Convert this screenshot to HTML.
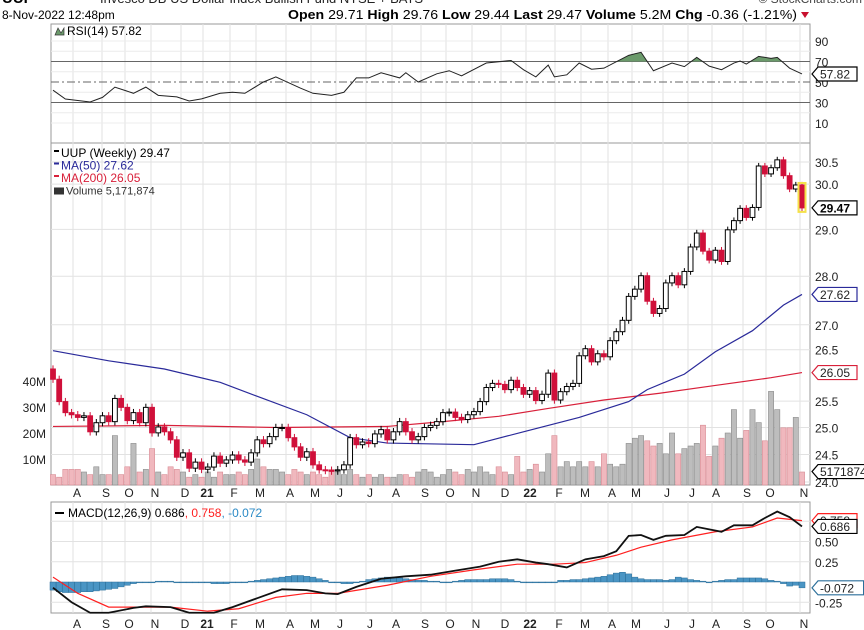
<!DOCTYPE html>
<html><head><meta charset="utf-8"><style>
body{margin:0;background:#fff;}
svg{display:block;font-family:"Liberation Sans",sans-serif;}
</style></head><body>
<svg id="c" width="864" height="630" viewBox="0 0 864 630">
<text x="100" y="3" font-size="13" fill="#222">Invesco DB US Dollar Index Bullish Fund  NYSE + BATS</text>
<text x="2" y="3" font-size="15" font-weight="bold" fill="#000">UUP</text>
<text x="862" y="3" font-size="12" fill="#444" text-anchor="end">© StockCharts.com</text>
<text x="2" y="19" font-size="12" fill="#000">8-Nov-2022 12:48pm</text>
<text x="288" y="19" font-size="13" fill="#000" textLength="509" lengthAdjust="spacingAndGlyphs"><tspan font-weight="bold">Open</tspan> 29.71 <tspan font-weight="bold">High</tspan> 29.76 <tspan font-weight="bold">Low</tspan> 29.44 <tspan font-weight="bold">Last</tspan> 29.47 <tspan font-weight="bold">Volume</tspan> 5.2M <tspan font-weight="bold">Chg</tspan> -0.36 (-1.21%)</text>
<path d="M801 12 L809 12 L805 18 Z" fill="#c8102e"/>
<g id="g"></g>
</svg>
<script>
const closes=[25.92,25.49,25.28,25.24,25.19,25.22,24.92,25.09,25.22,25.11,25.55,25.38,25.13,25.28,25.09,25.38,24.90,25.01,24.92,24.77,24.45,24.53,24.25,24.36,24.23,24.27,24.47,24.34,24.40,24.49,24.40,24.36,24.53,24.77,24.70,24.83,25.00,25.00,24.81,24.64,24.45,24.55,24.31,24.22,24.21,24.20,24.22,24.31,24.81,24.68,24.73,24.70,24.88,24.96,24.77,24.92,25.11,24.92,24.77,24.83,25.00,25.04,25.11,25.28,25.29,25.19,25.15,25.24,25.30,25.49,25.76,25.84,25.82,25.72,25.90,25.76,25.63,25.70,25.51,25.63,26.04,25.52,25.68,25.78,25.84,26.38,26.52,26.26,26.42,26.36,26.68,26.86,27.09,27.58,27.73,28.01,27.48,27.23,27.33,27.86,28.01,27.82,28.10,28.62,28.92,28.53,28.34,28.55,28.31,28.99,29.19,29.46,29.26,29.48,30.41,30.23,30.37,30.55,30.19,29.89,29.98,29.47];
const firstOpen=26.12;
const volumes=[4,3,6,6,6,5,4,7,4,4,19,4,7,16,5,6,14,5,4,7,6,5,3,4,3,5,3,5,4,4,5,4,6,10,7,6,6,5,4,6,5,4,5,4,3,6,5,4,6,4,3,4,3,4,3,3,4,4,3,5,6,5,3,4,6,5,4,6,5,7,5,4,7,5,4,11,5,6,8,5,12,19,7,9,7,9,7,9,7,12,8,7,8,16,18,19,17,15,16,12,20,12,14,15,16,23,11,15,18,20,29,18,21,29,24,17,36,29,22,22,26,5];
const ma50Idx=[0,9,18,27,33,41,48,54,68,76,85,93,96,102,107,113,118,121];
const ma50Val=[26.48,26.28,26.12,25.86,25.59,25.24,24.81,24.71,24.68,24.92,25.19,25.49,25.72,26.02,26.46,26.88,27.40,27.62];
const ma200Idx=[0,18,36,54,63,72,80,89,98,107,116,121];
const ma200Val=[25.02,25.04,25.00,25.02,25.11,25.21,25.36,25.52,25.65,25.80,25.95,26.05];
const rsiIdx=[0,2,6,8,10,13,15,17,20,22,24,27,29,31,34,36,40,42,45,47,49,51,53,56,57,59,62,64,66,70,74,76,78,80,81,83,85,87,89,93,95,97,100,102,104,106,108,110,111,112,114,116,117,119,121];
const rsiVal=[42,33.4,30.5,35,45,39,45,37,35.5,31.5,33.5,39,40,39,50,55,44,39,37,40,54,54,59,54,59,50,58,61,56,68.5,71,62,55,66.5,55,57,68.5,62.5,63.5,76,79,61,68.5,65,74,65.5,62,68.5,70.5,67.5,75,73,74,63.5,57.82];
const macdIdx=[0,3,6,9,13,15,19,22,26,29,33,37,41,44,46,49,53,57,61,65,69,72,75,78,80,83,86,89,91,93,95,97,99,102,104,108,110,113,115,117,119,121];
const macdVal=[-0.07,-0.25,-0.38,-0.38,-0.32,-0.30,-0.31,-0.38,-0.38,-0.31,-0.20,-0.09,-0.10,-0.14,-0.15,-0.06,0.04,0.07,0.09,0.14,0.19,0.25,0.28,0.24,0.22,0.18,0.28,0.32,0.38,0.57,0.58,0.52,0.57,0.58,0.68,0.62,0.70,0.70,0.79,0.87,0.80,0.686];
const sigIdx=[0,4,9,15,19,25,30,36,41,46,54,61,68,75,81,86,91,95,100,107,113,117,121];
const sigVal=[0.06,-0.14,-0.31,-0.31,-0.31,-0.36,-0.33,-0.19,-0.14,-0.14,-0.04,0.07,0.15,0.22,0.22,0.24,0.33,0.43,0.52,0.62,0.68,0.79,0.758];
const histVal=[-0.10,-0.12,-0.13,-0.13,-0.13,-0.12,-0.12,-0.11,-0.10,-0.09,-0.08,-0.06,-0.04,-0.02,-0.01,0.00,0.00,0.01,0.01,0.01,0.00,0.00,-0.01,-0.01,-0.01,-0.01,-0.02,-0.02,-0.02,-0.01,-0.01,0.00,0.01,0.02,0.03,0.04,0.05,0.06,0.07,0.08,0.08,0.07,0.06,0.04,0.02,0.00,-0.01,-0.02,-0.02,0.00,0.01,0.03,0.04,0.05,0.06,0.06,0.05,0.04,0.03,0.02,0.02,0.01,0.01,0.00,0.00,0.01,0.02,0.03,0.03,0.03,0.03,0.04,0.04,0.04,0.03,0.01,0.00,-0.01,-0.01,-0.01,0.00,0.00,0.02,0.02,0.03,0.03,0.04,0.05,0.06,0.07,0.09,0.11,0.12,0.10,0.06,0.04,0.03,0.03,0.03,0.02,0.03,0.06,0.05,0.03,0.02,0.01,-0.01,0.01,0.02,0.03,0.03,0.05,0.05,0.05,0.05,0.04,0.02,0.01,-0.02,-0.05,-0.04,-0.072];
const monthLabels=["A","S","O","N","D","21","F","M","A","M","J","J","A","S","O","N","D","22","F","M","A","M","J","J","A","S","O","N"];
const monthX=[77,106,129,155,185,207,234,260,290,315,340,370,396,425,450,476,505,530,559,585,612,636,667,692,716,747,770,804];
const priceTicks=[30.5,30.0,29.0,28.0,27.0,26.5,25.5,25.0,24.5,24.0];
const volTicks=[10,20,30,40];
const rsiTicks=[90,70,50,30,10];
const macdTicks=[0.5,0.25,-0.25];

const NS="http://www.w3.org/2000/svg";
const g=document.getElementById('g');
function mk(tag,attrs,parent){const e=document.createElementNS(NS,tag);for(const k in attrs)e.setAttribute(k,attrs[k]);(parent||g).appendChild(e);return e;}
const L=51,R=810,N=closes.length;
const X=i=>53+i*(802-53)/(N-1);
const PY=p=>482-1335*Math.log(p/24);
const VY=v=>485-v*2.6;
const RY=v=>82-(v-50)*1.025;
const MY=v=>582-v*81;
const panels=[[24,143],[143,485],[502,613]];
const panelNames=['rsi-panel','price-panel','macd-panel'];
panels.forEach((p,k)=>{
  const r=mk('rect',{x:L,y:p[0],width:R-L,height:p[1]-p[0],fill:'#fff',stroke:'#999','stroke-width':1});
  
  
});
monthX.forEach(x=>{panels.forEach(p=>{const l=mk('line',{x1:x-4,x2:x-4,y1:p[0],y2:p[1],stroke:'#e2e2e2'});

});});
[10,20,40,60,80,90].forEach(v=>{const l=mk('line',{x1:L,x2:R,y1:RY(v),y2:RY(v),stroke:'#ececec'});

});
[70,30].forEach(v=>{const l=mk('line',{x1:L,x2:R,y1:RY(v),y2:RY(v),stroke:'#666'});

});
{const l=mk('line',{x1:L,x2:R,y1:RY(50),y2:RY(50),stroke:'#666','stroke-dasharray':'8,3,2,3'});

}
rsiTicks.forEach(v=>{const t=mk('text',{x:815,y:RY(v)+5,'font-size':12,fill:'#222'});t.textContent=v;

});
const rp=rsiIdx.map((i,k)=>[X(i),RY(rsiVal[k])]);
{
  const clip=mk('clipPath',{id:'ob'});mk('rect',{x:L,y:24,width:R-L,height:RY(70)-24},clip);
  const a=mk('path',{d:'M'+rp[0][0]+' '+RY(70)+rp.map(p=>' L'+p[0]+' '+p[1]).join('')+' L'+rp[rp.length-1][0]+' '+RY(70)+'Z',fill:'#6b9a6b',stroke:'none','clip-path':'url(#ob)'});
  
  
}
{const l=mk('polyline',{points:rp.map(p=>p.join(',')).join(' '),fill:'none',stroke:'#222','stroke-width':1});

}
{const t=mk('text',{x:67,y:35,'font-size':12,fill:'#000'});t.textContent='RSI(14) 57.82';


 const ic=mk('path',{d:'M55 35 L58 28 L61 33 L64 28 L64 35Z',fill:'#6b9a6b',stroke:'#333','stroke-width':0.7});

}
priceTicks.forEach(p=>{const l=mk('line',{x1:L,x2:R,y1:PY(p),y2:PY(p),stroke:'#e2e2e2'});


 const t=mk('text',{x:815,y:PY(p)+5,'font-size':12,fill:'#222'});t.textContent=p.toFixed(1);

});
volTicks.forEach(v=>{const t=mk('text',{x:46,y:VY(v)+5,'font-size':12,fill:'#222','text-anchor':'end'});t.textContent=v+'M';

});
volumes.forEach((v,i)=>{const prev=i?closes[i-1]:firstOpen;const up=closes[i]>=prev;
 const b=mk('rect',{x:X(i)-2.6,y:VY(v),width:5.2,height:485-VY(v),fill:up?'#bdbdbd':'#f0b8be',stroke:up?'#8a8a8a':'#d88a93','stroke-width':0.6});
 
 });
function line(idx,val,fy,col,w){return mk('polyline',{points:idx.map((i,k)=>X(i)+','+fy(val[k])).join(' '),fill:'none',stroke:col,'stroke-width':w||1.2});}
const m200=line(ma200Idx,ma200Val,PY,'#d8203a');


const m50=line(ma50Idx,ma50Val,PY,'#2a2a9a');


closes.forEach((c,i)=>{const o=i?closes[i-1]:firstOpen;const hi=Math.max(o,c)+0.07,lo=Math.min(o,c)-0.07;
 const col=c<o?'#d0103a':'#000';const x=X(i);
 const w=mk('line',{x1:x,x2:x,y1:PY(hi),y2:PY(lo),stroke:col,'stroke-width':1});
 
 
 const yt=PY(Math.max(o,c)),yb=PY(Math.min(o,c));
 const b=mk('rect',{x:x-2.4,y:yt,width:4.8,height:Math.max(1,yb-yt),fill:c>o?'#fff':col,stroke:col,'stroke-width':1});
 
 });
const legendItems=[['UUP (Weekly) 29.47','#000'],['MA(50) 27.62','#2a2a9a'],['MA(200) 26.05','#d8203a'],['Volume 5,171,874','#333']];
legendItems.forEach((s,k)=>{
 const t=mk('text',{x:k==3?66:61,y:157+k*12.5,'font-size':k==3?11:12,fill:s[1]});t.textContent=s[0];
 
 
 const m=mk('rect',{x:54,y:150+k*12.5,width:k==3?10:5,height:k==3?7:2,fill:s[1]});
 
 });
function tag(y,txt,col,bold,name){const w=txt.length*6.6+6;
 const p=mk('path',{d:`M812 ${y} L818 ${y-7} L${818+w} ${y-7} L${818+w} ${y+7} L818 ${y+7}Z`,fill:'#fff',stroke:col,'stroke-width':1.2});
 
 
 const t=mk('text',{x:820,y:y+4.5,'font-size':12,fill:bold?'#000':'#222','font-weight':bold?'bold':'normal'});t.textContent=txt;
 
 }
tag(PY(29.47),'29.47','#000',true,'last-price-tag');
tag(PY(27.62),'27.62','#2a2a9a',false,'ma50-tag');
tag(PY(26.05),'26.05','#d8203a',false,'ma200-tag');
tag(VY(5.17),'5171874','#000',false,'volume-tag');
tag(RY(57.82),'57.82','#000',false,'rsi-tag');
{const h=mk('rect',{x:X(N-1)-3.5,y:PY(29.98)-2,width:7,height:PY(29.47)-PY(29.98)+6,fill:'none',stroke:'#f5e14a','stroke-width':2});

}
monthLabels.forEach((m,k)=>{[497,628].forEach(y=>{const t=mk('text',{x:monthX[k],y:y,'font-size':12,fill:'#222','text-anchor':'middle','font-weight':/\d/.test(m)?'bold':'normal'});t.textContent=m;

});});
macdTicks.concat([0.75]).forEach(v=>{const l=mk('line',{x1:L,x2:R,y1:MY(v),y2:MY(v),stroke:'#e2e2e2'});

});
macdTicks.forEach(v=>{const t=mk('text',{x:815,y:MY(v)+5,'font-size':12,fill:'#222'});t.textContent=v.toFixed(2);

});
histVal.forEach((v,i)=>{const y0=MY(0),y1=MY(v);const b=mk('rect',{x:X(i)-3,y:Math.min(y0,y1),width:6,height:Math.max(0.8,Math.abs(y1-y0)),fill:'#4a95c4',stroke:'#2b6f9a','stroke-width':0.5});

});
const sl=line(sigIdx,sigVal,MY,'#ff2020',1.2);


const ml=line(macdIdx,macdVal,MY,'#111',1.8);


{const t=mk('text',{x:68,y:517,'font-size':12,fill:'#000'});
 const a=mk('tspan',{},t);a.textContent='MACD(12,26,9) 0.686';
 const b=mk('tspan',{fill:'#ff2020'},t);b.textContent=', 0.758';
 const c=mk('tspan',{fill:'#2b8ac6'},t);c.textContent=', -0.072';
 
 
 const m=mk('rect',{x:55,y:512,width:9,height:2,fill:'#000'});
 
 }
tag(MY(0.758),'0.758','#ff2020',false,'signal-tag');
tag(MY(0.686),'0.686','#000',false,'macd-tag');
tag(MY(-0.072),'-0.072','#2b6f9a',false,'histogram-tag');
</script>
</body></html>
